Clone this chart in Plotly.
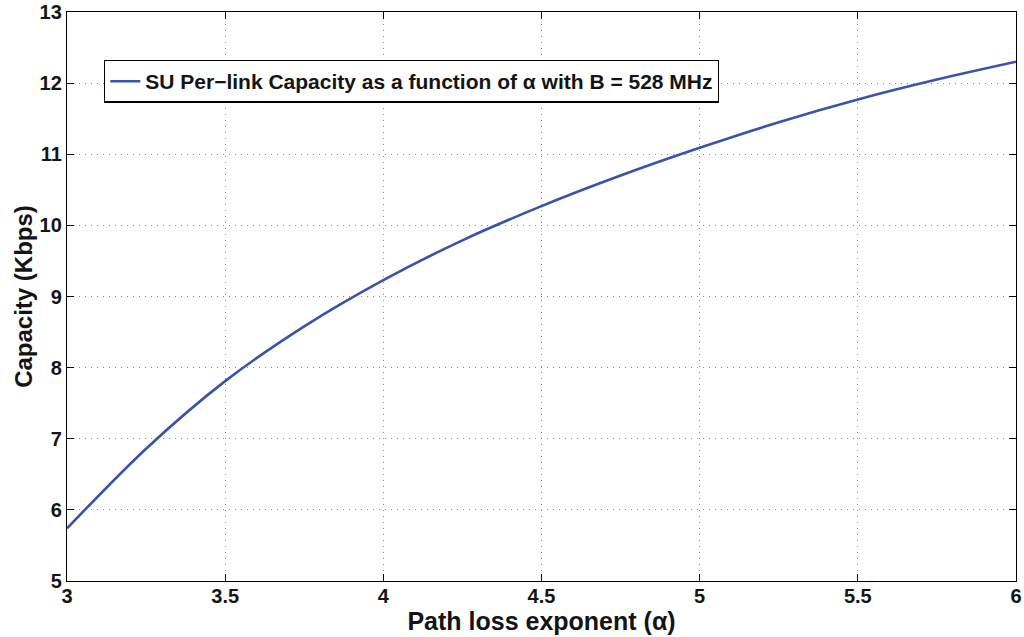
import plotly.graph_objects as go

# Path loss exponent and per-link capacity (Kbps)
alpha = [3.0, 3.25, 3.5, 3.75, 4.0, 4.25, 4.5, 4.75, 5.0, 5.25, 5.5, 5.75, 6.0]
capacity = [5.74, 6.86, 7.81, 8.58, 9.23, 9.79, 10.27, 10.70, 11.09, 11.45, 11.77, 12.05, 12.30]

x_ticks = [3, 3.5, 4, 4.5, 5, 5.5, 6]
x_tick_text = ["3", "3.5", "4", "4.5", "5", "5.5", "6"]
y_ticks = [5, 6, 7, 8, 9, 10, 11, 12, 13]

font_family = "Liberation Sans, Arial, sans-serif"

fig = go.Figure()
fig.add_trace(go.Scatter(
    x=alpha, y=capacity, mode="lines",
    line=dict(color="#3853a8", width=2.6, shape="spline", smoothing=0.9),
    name="<b>SU Per\u2212link Capacity as a function of α with B = 528 MHz</b>",
))

axis_common = dict(
    showline=True, linecolor="black", linewidth=1.3, mirror="ticks",
    ticks="inside", ticklen=7, tickcolor="black", tickwidth=1,
    showgrid=True, gridcolor="#8c8c8c", griddash="1px,5px", gridwidth=1,
    zeroline=False, automargin=False,
    tickfont=dict(family=font_family, size=20, color="#141414", weight="bold"),
)

fig.update_xaxes(
    range=[3, 6], tickvals=x_ticks, ticktext=x_tick_text,
    ticklabelstandoff=-3,
    title=dict(text="<b>Path loss exponent (α)</b>",
               font=dict(family=font_family, size=25, color="#141414"), standoff=3),
    **axis_common,
)
fig.update_yaxes(
    range=[5, 13], tickvals=y_ticks,
    title=dict(text="<b>Capacity (Kbps)</b>",
               font=dict(family=font_family, size=24, color="#141414"), standoff=0),
    **axis_common,
)

fig.update_layout(
    width=1024, height=637,
    margin=dict(l=67, r=8, t=12, b=56, autoexpand=False),
    paper_bgcolor="white", plot_bgcolor="white",
    showlegend=True,
    legend=dict(
        x=0.039, y=0.916, xanchor="left", yanchor="top",
        bgcolor="white", bordercolor="black", borderwidth=1.3,
        font=dict(family=font_family, size=21, color="#141414"),
        itemwidth=30, tracegroupgap=0,
    ),
)

fig.write_html("out.html")
